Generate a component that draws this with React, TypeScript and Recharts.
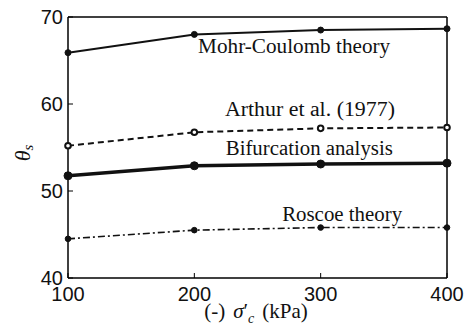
import React from "react";
import {
  LineChart,
  Line,
  XAxis,
  YAxis,
  ReferenceDot,
} from "recharts";

// confining pressure (kPa)
const pressures = [100, 200, 300, 400];

// shear band inclination (deg) for each prediction
const mohrCoulomb = [65.9, 68.0, 68.5, 68.65];
const arthur = [55.2, 56.75, 57.2, 57.3];
const bifurcation = [51.75, 52.9, 53.1, 53.2];
const roscoe = [44.5, 45.5, 45.8, 45.8];

const xTicks = [100, 200, 300, 400];
const yTicks = [40, 50, 60, 70];

// curve labels, placed in data coordinates (text centre x, baseline y)
const labelTexts = ["Mohr-Coulomb theory", "Arthur et al. (1977)", "Bifurcation analysis", "Roscoe theory"];
const labelX = [279, 291.5, 291, 317];
const labelY = [65.9, 58.6, 54.1, 46.55];
const labelWidths = [192, 170, 167, 120];

const data = pressures.map((p, i) => ({
  p,
  mc: mohrCoulomb[i],
  arthur: arthur[i],
  bif: bifurcation[i],
  roscoe: roscoe[i],
}));

const serif = "'Liberation Serif', 'Times New Roman', serif";
const sans = "'Liberation Sans', Arial, Helvetica, sans-serif";
const tickFont = { fontSize: 20, fill: "#111", fontFamily: sans };
const frame = { stroke: "#000", strokeWidth: 1.5 };

export default function App() {
  return (
    <div style={{ position: "absolute", left: 0, top: 0, background: "#fff" }}>
      <LineChart
        width={471}
        height={331}
        data={data}
        margin={{ top: 16, right: 23, bottom: 13, left: 8 }}
      >
        <XAxis
          dataKey="p"
          type="number"
          domain={[100, 400]}
          ticks={xTicks}
          height={40}
          axisLine={frame}
          tickLine={{ stroke: "#000" }}
          tickSize={-5}
          tickMargin={14}
          tick={tickFont}
        />
        <XAxis
          xAxisId="top"
          orientation="top"
          type="number"
          domain={[100, 400]}
          ticks={xTicks}
          height={1}
          axisLine={frame}
          tickLine={{ stroke: "#000" }}
          tickSize={-5}
          tick={false}
        />
        <YAxis
          type="number"
          domain={[40, 70]}
          ticks={yTicks}
          width={60}
          axisLine={frame}
          tickLine={{ stroke: "#000" }}
          tickSize={-5}
          tickMargin={10}
          tick={tickFont}
        />
        <YAxis
          yAxisId="right"
          orientation="right"
          type="number"
          domain={[40, 70]}
          ticks={yTicks}
          width={1}
          axisLine={frame}
          tickLine={{ stroke: "#000" }}
          tickSize={-5}
          tick={false}
        />

        <Line
          dataKey="mc"
          stroke="#111"
          strokeWidth={2}
          dot={{ r: 3, fill: "#111", stroke: "#111", strokeWidth: 1 }}
          isAnimationActive={false}
        />
        <Line
          dataKey="arthur"
          stroke="#111"
          strokeWidth={2}
          strokeDasharray="6 4"
          dot={{ r: 2.8, fill: "#fff", stroke: "#111", strokeWidth: 2, strokeDasharray: "" }}
          isAnimationActive={false}
        />
        <Line
          dataKey="bif"
          stroke="#111"
          strokeWidth={3.5}
          dot={{ r: 4, fill: "#111", stroke: "#111", strokeWidth: 1 }}
          isAnimationActive={false}
        />
        <Line
          dataKey="roscoe"
          stroke="#111"
          strokeWidth={1.6}
          strokeDasharray="7 3 2 3"
          dot={{ r: 2.8, fill: "#111", stroke: "#111", strokeWidth: 1, strokeDasharray: "" }}
          isAnimationActive={false}
        />

        {labelTexts.map((t, i) => (
          <ReferenceDot
            key={t}
            x={labelX[i]}
            y={labelY[i]}
            r={0}
            shape={(p: any) => (
              <text
                x={p.cx}
                y={p.cy}
                textAnchor="middle"
                fontFamily={serif}
                fontSize={20}
                textLength={labelWidths[i]}
                lengthAdjust="spacingAndGlyphs"
                fill="#111"
              >
                {t}
              </text>
            )}
          />
        ))}

        {/* axis titles */}
        <text
          x={25}
          y={153}
          transform="rotate(-90 25 153)"
          textAnchor="middle"
          dominantBaseline="middle"
          fontFamily={serif}
          fontSize={22}
          fill="#111"
        >
          <tspan fontStyle="italic">θ</tspan>
          <tspan fontStyle="italic" fontSize={15} dy={5}>s</tspan>
        </text>
        <text
          x={256}
          y={318}
          textAnchor="middle"
          fontFamily={serif}
          fontSize={21}
          fill="#111"
        >
          (-)
          <tspan fontStyle="italic" dx={8}>σ</tspan>
          <tspan>′</tspan>
          <tspan fontStyle="italic" fontSize={14} dy={5}>c</tspan>
          <tspan dy={-5} dx={8}>(kPa)</tspan>
        </text>
      </LineChart>
    </div>
  );
}
